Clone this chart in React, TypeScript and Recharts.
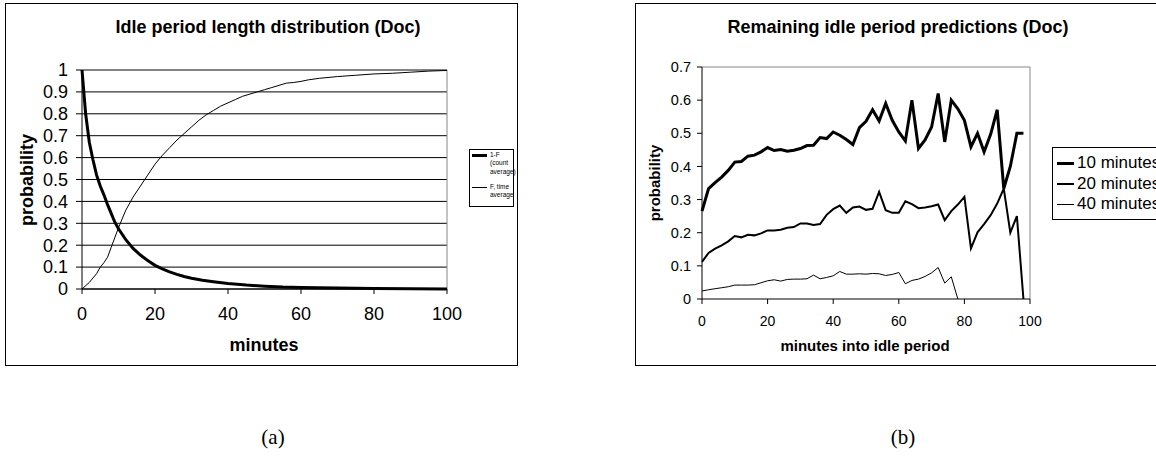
import React from 'react';
import { LineChart, Line, XAxis, YAxis, CartesianGrid, ReferenceLine } from 'recharts';

// ---- Chart (a): idle period length distribution ----
const distMinutesA = [0, 1, 2, 3, 4, 5, 6, 7, 8, 9, 10, 12, 14, 16, 18, 20, 22, 24, 26, 28, 30, 33, 36, 40, 45, 50, 55, 60, 70, 80, 90, 100];
const oneMinusF = [1.0, 0.8, 0.67, 0.59, 0.52, 0.47, 0.43, 0.385, 0.345, 0.305, 0.275, 0.225, 0.185, 0.155, 0.13, 0.108, 0.092, 0.078, 0.067, 0.057, 0.049, 0.04, 0.033, 0.025, 0.018, 0.013, 0.009, 0.007, 0.004, 0.002, 0.001, 0.0005];

const distMinutesB = [0, 2, 4, 5, 6, 7, 8, 10, 12, 14, 16, 18, 20, 22, 24, 26, 28, 30, 32, 34, 36, 38, 40, 42, 44, 46, 48, 50, 52, 54, 56, 58, 60, 62, 65, 70, 75, 80, 85, 90, 95, 100];
const fTimeAverage = [0, 0.03, 0.07, 0.1, 0.12, 0.145, 0.19, 0.28, 0.36, 0.42, 0.47, 0.52, 0.57, 0.61, 0.645, 0.68, 0.71, 0.74, 0.77, 0.795, 0.815, 0.835, 0.85, 0.865, 0.88, 0.89, 0.9, 0.91, 0.92, 0.93, 0.94, 0.943, 0.948, 0.955, 0.962, 0.97, 0.976, 0.982, 0.985, 0.99, 0.995, 0.998];

const leftXTicks = [0, 20, 40, 60, 80, 100];
const leftYTicks = [0, 0.1, 0.2, 0.3, 0.4, 0.5, 0.6, 0.7, 0.8, 0.9, 1];

// ---- Chart (b): remaining idle period predictions ----
const idleMinutes = [0, 2, 4, 6, 8, 10, 12, 14, 16, 18, 20, 22, 24, 26, 28, 30, 32, 34, 36, 38, 40, 42, 44, 46, 48, 50, 52, 54, 56, 58, 60, 62, 64, 66, 68, 70, 72, 74, 76, 78, 80, 82, 84, 86, 88, 90, 92, 94, 96, 98];
const pred10 = [0.265, 0.333, 0.351, 0.368, 0.388, 0.413, 0.415, 0.431, 0.434, 0.444, 0.457, 0.448, 0.451, 0.446, 0.449, 0.454, 0.463, 0.464, 0.487, 0.484, 0.504, 0.494, 0.481, 0.466, 0.517, 0.536, 0.571, 0.537, 0.59, 0.539, 0.504, 0.477, 0.6, 0.454, 0.48, 0.519, 0.62, 0.474, 0.6, 0.574, 0.539, 0.459, 0.5, 0.444, 0.497, 0.571, 0.333, 0.4, 0.5, 0.5];
const pred20 = [0.112, 0.139, 0.152, 0.162, 0.174, 0.19, 0.186, 0.194, 0.192, 0.198, 0.207, 0.207, 0.209, 0.215, 0.217, 0.228, 0.228, 0.223, 0.226, 0.254, 0.271, 0.282, 0.26, 0.276, 0.279, 0.269, 0.272, 0.323, 0.268, 0.26, 0.26, 0.295, 0.286, 0.274, 0.276, 0.28, 0.285, 0.238, 0.265, 0.285, 0.308, 0.153, 0.201, 0.226, 0.253, 0.288, 0.333, 0.2, 0.25, 0];
const pred40 = [0.024, 0.028, 0.031, 0.034, 0.037, 0.042, 0.042, 0.042, 0.043, 0.049, 0.055, 0.058, 0.054, 0.059, 0.06, 0.06, 0.061, 0.072, 0.061, 0.065, 0.07, 0.083, 0.075, 0.075, 0.076, 0.075, 0.077, 0.076, 0.071, 0.074, 0.08, 0.046, 0.056, 0.06, 0.068, 0.079, 0.095, 0.048, 0.067, 0, null, null, null, null, null, null, null, null, null, null];

const rightXTicks = [0, 20, 40, 60, 80, 100];
const rightYTicks = [0, 0.1, 0.2, 0.3, 0.4, 0.5, 0.6, 0.7];

const seriesNames = ['10 minutes', '20 minutes', '40 minutes'];
const seriesWidths = [3, 2, 1];

const FONT = '"Liberation Sans", Arial, Helvetica, sans-serif';
const SERIF = '"Liberation Serif", "Times New Roman", serif';

const dataA = distMinutesA.map((m, i) => ({ m, v: oneMinusF[i] }));
const dataB = distMinutesB.map((m, i) => ({ m, v: fTimeAverage[i] }));
const dataPred = idleMinutes.map((m, i) => ({ m, p10: pred10[i], p20: pred20[i], p40: pred40[i] }));

const abs = (s: React.CSSProperties): React.CSSProperties => ({ position: 'absolute', ...s });

export default function App() {
  return (
    <div style={abs({ left: 0, top: 0, width: 1156, height: 458, overflow: 'hidden', background: '#fff', fontFamily: FONT, color: '#000' })}>
      {/* ===== Left chart frame ===== */}
      <div style={abs({ left: 5, top: 3, width: 511, height: 361, border: '1px solid #000' })} />
      <div style={abs({ left: 0, top: 0 })}>
        <LineChart width={506} height={365} margin={{ top: 70, right: 59, bottom: 46, left: 22 }}>
          <CartesianGrid vertical={false} stroke="#000" strokeWidth={1} />
          <XAxis
            type="number"
            dataKey="m"
            domain={[0, 100]}
            ticks={leftXTicks}
            interval={0}
            height={30}
            tickSize={5}
            tickMargin={13}
            axisLine={{ stroke: '#000' }}
            tickLine={{ stroke: '#000' }}
            tick={{ fontSize: 18, fill: '#000', fontFamily: FONT }}
            allowDuplicatedCategory={false}
          />
          <YAxis
            type="number"
            domain={[0, 1]}
            ticks={leftYTicks}
            interval={0}
            width={60}
            tickSize={6}
            tickMargin={8}
            axisLine={{ stroke: '#000' }}
            tickLine={{ stroke: '#000' }}
            tick={{ fontSize: 18, fill: '#000', fontFamily: FONT }}
            tickFormatter={(v: number) => String(v)}
          />
          <ReferenceLine y={1} stroke="#888" strokeWidth={1} />
          <ReferenceLine x={100} stroke="#888" strokeWidth={1} />
          <Line data={dataB} dataKey="v" type="linear" stroke="#000" strokeWidth={1} dot={false} isAnimationActive={false} />
          <Line data={dataA} dataKey="v" type="linear" stroke="#000" strokeWidth={3} dot={false} isAnimationActive={false} />
        </LineChart>
      </div>
      <div style={abs({ left: 0, top: 16, width: 536, textAlign: 'center', fontWeight: 'bold', fontSize: 18, lineHeight: '22px' })}>
        Idle period length distribution (Doc)
      </div>
      <div style={abs({ left: 164, top: 334, width: 200, textAlign: 'center', fontWeight: 'bold', fontSize: 18, lineHeight: '22px' })}>
        minutes
      </div>
      <div style={abs({ left: -73, top: 169, width: 200, textAlign: 'center', fontWeight: 'bold', fontSize: 18, lineHeight: '22px', transform: 'rotate(-90deg)' })}>
        probability
      </div>
      {/* left legend */}
      <div style={abs({ left: 469, top: 149, width: 43, height: 56, border: '1px solid #000', background: '#fff', fontSize: 6.5, lineHeight: '8.5px' })}>
        <div style={abs({ left: 2, top: 3.5, width: 15, height: 3, background: '#000' })} />
        <div style={abs({ left: 20, top: 0.5, whiteSpace: 'nowrap' })}>
          1-F<br />(count<br />average)
        </div>
        <div style={abs({ left: 2, top: 36.5, width: 15, height: 1, background: '#000' })} />
        <div style={abs({ left: 20, top: 32.5, whiteSpace: 'nowrap' })}>
          F, time<br />average
        </div>
      </div>

      {/* ===== Right chart frame ===== */}
      <div style={abs({ left: 635, top: 3, width: 600, height: 361, border: '1px solid #000' })} />
      <div style={abs({ left: 620, top: 0 })}>
        <LineChart width={536} height={365} data={dataPred} margin={{ top: 67, right: 126, bottom: 36, left: 22 }}>
          <XAxis
            type="number"
            dataKey="m"
            domain={[0, 100]}
            ticks={rightXTicks}
            interval={0}
            height={30}
            tickSize={5}
            tickMargin={12}
            axisLine={{ stroke: '#000' }}
            tickLine={{ stroke: '#000' }}
            tick={{ fontSize: 14, fill: '#000', fontFamily: FONT }}
          />
          <YAxis
            type="number"
            domain={[0, 0.7]}
            ticks={rightYTicks}
            interval={0}
            width={60}
            tickSize={5}
            tickMargin={6}
            axisLine={{ stroke: '#000' }}
            tickLine={{ stroke: '#000' }}
            tick={{ fontSize: 14.5, fill: '#000', fontFamily: FONT }}
            tickFormatter={(v: number) => String(v)}
          />
          <ReferenceLine y={0.7} stroke="#888" strokeWidth={1} />
          <ReferenceLine x={100} stroke="#888" strokeWidth={1} />
          <Line dataKey="p40" name={seriesNames[2]} type="linear" stroke="#000" strokeWidth={seriesWidths[2]} dot={false} isAnimationActive={false} />
          <Line dataKey="p20" name={seriesNames[1]} type="linear" stroke="#000" strokeWidth={seriesWidths[1]} dot={false} isAnimationActive={false} />
          <Line dataKey="p10" name={seriesNames[0]} type="linear" stroke="#000" strokeWidth={seriesWidths[0]} dot={false} isAnimationActive={false} />
        </LineChart>
      </div>
      <div style={abs({ left: 630, top: 16, width: 536, textAlign: 'center', fontWeight: 'bold', fontSize: 18, lineHeight: '22px' })}>
        Remaining idle period predictions (Doc)
      </div>
      <div style={abs({ left: 715, top: 336, width: 300, textAlign: 'center', fontWeight: 'bold', fontSize: 15, lineHeight: '20px' })}>
        minutes into idle period
      </div>
      <div style={abs({ left: 555, top: 173, width: 200, textAlign: 'center', fontWeight: 'bold', fontSize: 15, lineHeight: '20px', transform: 'rotate(-90deg)' })}>
        probability
      </div>
      {/* right legend */}
      <div style={abs({ left: 1052, top: 147, width: 130, height: 71, border: '1px solid #000', background: '#fff', fontSize: 17, lineHeight: '20px' })}>
        {seriesNames.map((n, i) => (
          <div key={n} style={abs({ left: 0, top: 5 + i * 20.5, height: 20, width: 130 })}>
            <div style={abs({ left: 4, top: 10 - seriesWidths[i] / 2, width: 17, height: seriesWidths[i], background: '#000' })} />
            <div style={abs({ left: 24, top: 0, whiteSpace: 'nowrap' })}>{n}</div>
          </div>
        ))}
      </div>

      {/* captions */}
      <div style={abs({ left: 223, top: 423, width: 100, textAlign: 'center', fontFamily: SERIF, fontSize: 21, lineHeight: '28px' })}>(a)</div>
      <div style={abs({ left: 853, top: 423, width: 100, textAlign: 'center', fontFamily: SERIF, fontSize: 21, lineHeight: '28px' })}>(b)</div>
    </div>
  );
}
